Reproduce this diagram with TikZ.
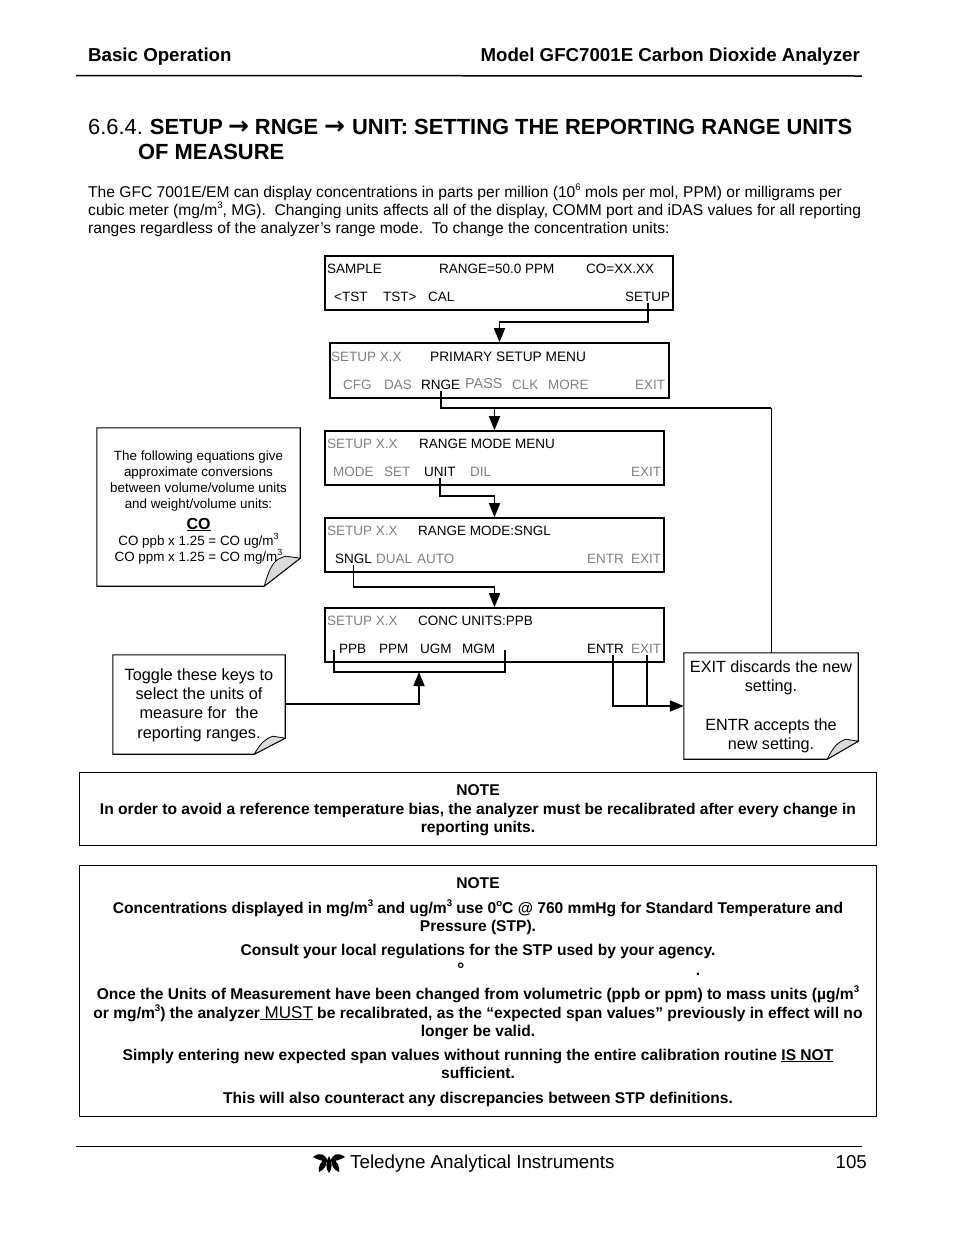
\documentclass[tikz,border=0pt]{standalone}
\usepackage{fontspec}
\setmainfont{Liberation Sans}
\newfontfamily\arrowfont{DejaVu Sans}
\usetikzlibrary{arrows.meta}
\tikzset{
  txt/.style={inner sep=0pt, anchor=base west},
  pagetxt/.style={txt, font=\fontsize{15.6}{18}\selectfont},
  headtxt/.style={txt, font=\bfseries\fontsize{18.7}{22}\selectfont},
  titletxt/.style={txt, font=\fontsize{21.9}{25}\selectfont},
  notetxt/.style={inner sep=0pt, anchor=base, font=\bfseries\fontsize{15.6}{18.4}\selectfont},
  display/.style={draw, line width=1.6pt, inner sep=0pt},
  keyon/.style={inner xsep=0pt, inner ysep=2pt, anchor=base west, font=\fontsize{13.5}{15}\selectfont},
  keyoff/.style={keyon, text=keygray},
  link/.style={draw, line width=1.8pt},
  linkarrow/.style={link, -{Triangle[length=14pt,width=11pt]}},
  notebox/.style={inner sep=0pt, align=center},
  framebox/.style={draw, line width=1pt, inner sep=0pt}
}
\definecolor{keygray}{gray}{0.5}
\definecolor{foldgray}{gray}{0.86}
\newcommand{\sups}[1]{\raisebox{0.42em}{\fontsize{9.6}{10}\selectfont #1}}
\newcommand{\toarrow}{{\arrowfont\bfseries\fontsize{25}{25}\selectfont\symbol{"2192}}}
% sheet of paper with one corner turned up
\newcommand{\foldsheet}[3]{
  \draw[line width=1.1pt] (#1.north west) -- (#1.north east) -- ([yshift=#3]#1.south east) -- ([xshift=-#2]#1.south east) -- (#1.south west) -- cycle;
  \draw[line width=0.8pt, fill=foldgray] ([xshift=-#2]#1.south east) .. controls ([xshift=-#2+7,yshift=#3-4]#1.south east) and ([xshift=-#2+11,yshift=#3-1]#1.south east) .. ([xshift=-#2*0.4,yshift=#3+2]#1.south east) -- ([yshift=#3]#1.south east) -- cycle;
}

\begin{document}
\begin{tikzpicture}[x=1pt,y=-1pt]
  \useasboundingbox (0,0) rectangle (954,1235);

  % page header
  \node[headtxt] (basicop) at (88,61) {Basic Operation};
  \node[headtxt, anchor=base east] (model) at (860,61) {Model GFC7001E Carbon Dioxide Analyzer};
  \coordinate (ruleA) at (76,75.5);
  \coordinate (ruleB) at (862,76);
  \draw[line width=1.5pt] (ruleA) -- (ruleB);

  % title
  \node[titletxt] (title) at (88,134) {6.6.4.\kern7pt\textbf{SETUP\kern5pt\toarrow\kern6pt RNGE\kern6pt\toarrow\kern7pt UNIT: SETTING THE REPORTING RANGE UNITS}};
  \node[titletxt, font=\bfseries\fontsize{21.9}{25}\selectfont] (title2) at (138,159) {OF MEASURE};

  \node[pagetxt] (introA) at (88,197) {The GFC 7001E/EM can display concentrations in parts per million (10\sups{6} mols per mol, PPM) or milligrams per};
  \node[pagetxt] (introB) at (88,215) {cubic meter (mg/m\sups{3}, MG).\ \ Changing units affects all of the display, COMM port and iDAS values for all reporting};
  \node[pagetxt] (introC) at (88,233) {ranges regardless of the analyzer’s range mode.\ \ To change the concentration units:};

  % display boxes
  \node[display, minimum width=348, minimum height=54] (sample) at (499,283) {};
  \node[display, minimum width=339, minimum height=55] (primary) at (499.5,370.5) {};
  \node[display, minimum width=339, minimum height=54] (rangemenu) at (494.5,458) {};
  \node[display, minimum width=339, minimum height=54] (rangesngl) at (494.5,545) {};
  \node[display, minimum width=339, minimum height=54] (concunits) at (494.5,635) {};

  \node[keyon] (sampleA) at (327,273) {SAMPLE};
  \node[keyon] (sampleB) at (439,273) {RANGE=50.0 PPM};
  \node[keyon] (sampleC) at (586,273) {CO=XX.XX};
  \node[keyon] (tstl) at (334,301) {<TST};
  \node[keyon] (tstr) at (383,301) {TST>};
  \node[keyon] (cal) at (428,301) {CAL};
  \node[keyon] (setupkey) at (625,301) {SETUP};

  \node[keyoff] (primaryA) at (331,361) {SETUP X.X};
  \node[keyon, font=\fontsize{13.7}{15}\selectfont] (primaryB) at (430,361) {PRIMARY SETUP MENU};
  \node[keyoff] (cfg) at (343,389) {CFG};
  \node[keyoff] (das) at (384,389) {DAS};
  \node[keyon] (rnge) at (421,389) {RNGE};
  \node[keyoff, font=\fontsize{14.4}{15}\selectfont] (pass) at (465,388) {PASS};
  \node[keyoff] (clk) at (512,389) {CLK};
  \node[keyoff] (more) at (548,389) {MORE};
  \node[keyoff] (exitA) at (635,389) {EXIT};

  \node[keyoff] (menuA) at (327,448) {SETUP X.X};
  \node[keyon] (menuB) at (419,448) {RANGE MODE MENU};
  \node[keyoff] (mode) at (333,476) {MODE};
  \node[keyoff] (setkey) at (384,476) {SET};
  \node[keyon] (unit) at (424,476) {UNIT};
  \node[keyoff] (dil) at (470,476) {DIL};
  \node[keyoff] (exitB) at (631,476) {EXIT};

  \node[keyoff] (sngA) at (327,535) {SETUP X.X};
  \node[keyon] (sngB) at (418,535) {RANGE MODE:SNGL};
  \node[keyon] (sngl) at (335,563) {SNGL};
  \node[keyoff] (dual) at (376,563) {DUAL};
  \node[keyoff] (auto) at (417,563) {AUTO};
  \node[keyoff] (entrA) at (587,563) {ENTR};
  \node[keyoff] (exitC) at (631,563) {EXIT};

  \node[keyoff] (concA) at (327,625) {SETUP X.X};
  \node[keyon] (concB) at (418,625) {CONC UNITS:PPB};
  \node[keyon] (ppb) at (339,653) {PPB};
  \node[keyon] (ppm) at (379,653) {PPM};
  \node[keyon] (ugm) at (420,653) {UGM};
  \node[keyon] (mgm) at (462,653) {MGM};
  \node[keyon] (entrB) at (587,653) {ENTR};
  \node[keyoff] (exitD) at (631,653) {EXIT};

  % turned-up notes
  \node[notebox, minimum width=203, minimum height=158] (eqnote) at (198.5,507) {};
  \foldsheet{eqnote}{36}{28}
  \node[inner sep=0pt, align=center, font=\fontsize{13.4}{16}\selectfont] (eqtext) at (198.5,481.5) {The following equations give\\approximate conversions\\between volume/volume units\\and weight/volume units:};
  \node[inner sep=0pt, anchor=base, font=\bfseries\fontsize{16}{16}\selectfont] (eqco) at (198.5,529) {\underline{CO}};
  \node[inner sep=0pt, align=center, font=\fontsize{13.4}{16}\selectfont] (eqlines) at (198.5,549) {CO ppb x 1.25 = CO ug/m\raisebox{0.42em}{\fontsize{9}{10}\selectfont 3}\\CO ppm x 1.25 = CO mg/m\raisebox{0.42em}{\fontsize{9}{10}\selectfont 3}};

  \node[notebox, minimum width=172, minimum height=99] (togglenote) at (199,704.5) {};
  \foldsheet{togglenote}{31}{16}
  \node[inner sep=0pt, align=center, font=\fontsize{16.3}{19.4}\selectfont] (toggletext) at (199,705) {Toggle these keys to\\select the units of\\measure for\ \ the\\reporting ranges.};

  \node[notebox, minimum width=174, minimum height=106] (exitnote) at (771,706) {};
  \foldsheet{exitnote}{31}{18}
  \node[inner sep=0pt, align=center, font=\fontsize{16.2}{19.4}\selectfont] (exittext) at (771,707) {EXIT discards the new\\setting.\\[19.4pt]ENTR accepts the\\new setting.};

  % connectors
  \coordinate (bendA) at (setupkey.south |- 0,322);
  \draw[linkarrow] (setupkey.south) -- (bendA) -| (primary.north);
  \coordinate (bendB) at (rnge.south |- 0,408);
  \coordinate (bendC) at (771,408);
  \draw[link] (rnge.south) -- (bendB) -- (bendC);
  \draw[line width=1pt] (bendC) -- (bendC |- exitnote.north);
  \draw[linkarrow] (rangemenu.north |- bendB) -- (rangemenu.north);
  \coordinate (bendD) at (unit.south |- 0,496);
  \draw[linkarrow] (unit.south) -- (bendD) -| (rangesngl.north);
  \coordinate (bendE) at (sngl.south |- 0,587);
  \draw[linkarrow] (sngl.south) -- (bendE) -| (concunits.north);

  \coordinate (brkL) at (334,650);
  \coordinate (brkR) at (505,650);
  \coordinate (brkM) at (419,672);
  \draw[link] (brkL) |- (brkM) -| (brkR);
  \draw[linkarrow] ([yshift=0.5]togglenote.east) -| (brkM);

  \coordinate (bendF) at (613,706);
  \draw[linkarrow] (entrB.south -| bendF) -- (bendF) -- (exitnote.west);
  \draw[link] ([xshift=1]exitD.south) -- ([xshift=1]exitD.south |- bendF);

  % note frames
  \node[framebox, minimum width=797, minimum height=73.5] (noteA) at (478,808.75) {};
  \node[notetxt] (noteAa) at (478,795) {NOTE};
  \node[notetxt] (noteAb) at (478,814) {In order to avoid a reference temperature bias, the analyzer must be recalibrated after every change in};
  \node[notetxt] (noteAc) at (478,832) {reporting units.};

  \node[framebox, minimum width=797, minimum height=251.5] (noteB) at (478,990.75) {};
  \node[notetxt] (noteBa) at (478,888) {NOTE};
  \node[notetxt] (noteBb) at (478,913) {Concentrations displayed in mg/m\sups{3} and ug/m\sups{3} use 0\sups{o}C @ 760 mmHg for Standard Temperature and};
  \node[notetxt] (noteBc) at (478,931) {Pressure (STP).};
  \node[notetxt] (noteBd) at (478,955) {Consult your local regulations for the STP used by your agency.};
  \node[notetxt, font=\bfseries\itshape\fontsize{18}{18}\selectfont] (noteBe) at (460,975) {°};
  \node[notetxt] (noteBf) at (698,975) {.};
  \node[notetxt] (noteBg) at (478,999) {Once the Units of Measurement have been changed from volumetric (ppb or ppm) to mass units (µg/m\sups{3}};
  \node[notetxt] (noteBh) at (478,1018) {or mg/m\sups{3}) the analyzer{\mdseries\fontsize{17}{18}\selectfont\underline{ MUST}} be recalibrated, as the “expected span values” previously in effect will no};
  \node[notetxt] (noteBi) at (478,1036) {longer be valid.};
  \node[notetxt] (noteBj) at (478,1060) {Simply entering new expected span values without running the entire calibration routine \underline{IS NOT}};
  \node[notetxt] (noteBk) at (478,1078) {sufficient.};
  \node[notetxt] (noteBl) at (478,1103) {This will also counteract any discrepancies between STP definitions.};

  % page footer
  \coordinate (footA) at (76,1146);
  \coordinate (footB) at (862,1146);
  \draw[line width=1pt] (footA) -- (footB);
  \fill (328,1162) .. controls (325,1153) and (320,1152) .. (313,1157) .. controls (318,1160) and (323,1161) .. cycle;
  \fill (330,1162) .. controls (333,1153) and (338,1152) .. (345,1157) .. controls (340,1160) and (335,1161) .. cycle;
  \fill (326,1158) .. controls (320,1162) and (318,1167) .. (319,1172) .. controls (324,1170) and (328,1165) .. cycle;
  \fill (332,1158) .. controls (338,1162) and (340,1167) .. (339,1172) .. controls (334,1170) and (330,1165) .. cycle;
  \fill (329,1156) .. controls (325,1163) and (326,1169) .. (329,1173) .. controls (332,1169) and (333,1163) .. cycle;
  \node[txt, font=\fontsize{18.8}{22}\selectfont] (teledyne) at (350,1168) {Teledyne Analytical Instruments};
  \node[txt, anchor=base east, font=\fontsize{18.7}{22}\selectfont] (pagenum) at (867,1168) {105};
\end{tikzpicture}
\end{document}
